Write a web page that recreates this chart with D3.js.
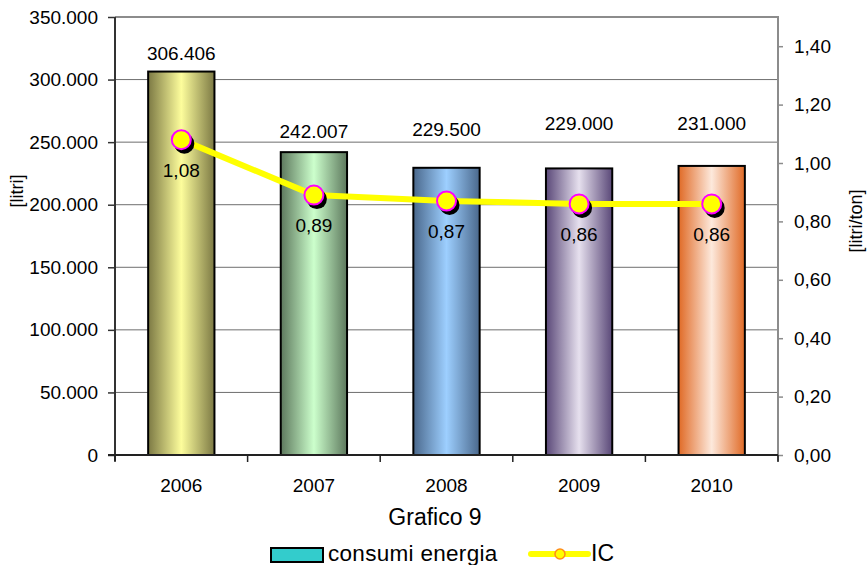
<!DOCTYPE html>
<html>
<head>
<meta charset="utf-8">
<script src="https://cdn.jsdelivr.net/npm/d3@7/dist/d3.min.js"></script>
<style>
  html, body { margin: 0; padding: 0; background: #fff; }
  svg { display: block; font-family: "Liberation Sans", Arial, sans-serif; }
</style>
</head>
<body>
<svg id="chart" width="867" height="565"></svg>
<script>
// Yearly consumption (litres) and consumption index (litres/ton)
const years = ["2006", "2007", "2008", "2009", "2010"];
const consumi = [306406, 242007, 229500, 229000, 231000];
const ic = [1.08, 0.89, 0.87, 0.86, 0.86];
const leftTicks = [0, 50000, 100000, 150000, 200000, 250000, 300000, 350000];
const rightTicks = [0, 0.2, 0.4, 0.6, 0.8, 1.0, 1.2, 1.4];

// Cylinder-style shading for each bar: [edge, centre]
const barShades = [
  ["#7c7944", "#fdfd9c"],
  ["#5d785d", "#ccffcc"],
  ["#4a688c", "#9dcfff"],
  ["#5a4878", "#e6e0ee"],
  ["#e06a26", "#fde9dc"]
];
// Pixel lift of each bar's value label above the bar top
const labelLift = [12, 14, 32, 38, 36];

const it = d3.formatLocale({ decimal: ",", thousands: ".", grouping: [3], currency: ["€", ""] });
const fmtInt = it.format(",d");
const fmt2 = it.format(".2f");

const FS = 19;
const svg = d3.select("#chart");
const plot = { left: 115, right: 778, top: 17, bottom: 455 };

const x = d3.scaleBand().domain(years).range([plot.left, plot.right])
  .paddingInner(0.5).paddingOuter(0.25);
const y = d3.scaleLinear().domain([0, 350000]).range([plot.bottom, plot.top]);
const y2 = d3.scaleLinear().domain([0, 1.5]).range([plot.bottom, plot.top]);

// Gradients
const defs = svg.append("defs");
barShades.forEach((c, i) => {
  const g = defs.append("linearGradient").attr("id", "bar" + i)
    .attr("x1", "0%").attr("x2", "100%").attr("y1", "0%").attr("y2", "0%");
  g.append("stop").attr("offset", "0%").attr("stop-color", c[0]);
  g.append("stop").attr("offset", "50%").attr("stop-color", c[1]);
  g.append("stop").attr("offset", "100%").attr("stop-color", c[0]);
});

// Horizontal gridlines
svg.append("g").selectAll("line")
  .data(leftTicks.filter(t => t > 0 && t < 350000))
  .join("line")
  .attr("x1", plot.left).attr("x2", plot.right)
  .attr("y1", d => y(d)).attr("y2", d => y(d))
  .attr("stroke", "#6e6e6e").attr("stroke-width", 1);

// Plot frame (top and right)
svg.append("path")
  .attr("d", `M${plot.left},${plot.top}H${plot.right}V${plot.bottom}`)
  .attr("fill", "none").attr("stroke", "#8c8c8c").attr("stroke-width", 2);

// Bars
svg.append("g").selectAll("rect")
  .data(consumi)
  .join("rect")
  .attr("x", (d, i) => x(years[i]))
  .attr("y", d => y(d))
  .attr("width", x.bandwidth())
  .attr("height", d => y(0) - y(d))
  .attr("fill", (d, i) => `url(#bar${i})`)
  .attr("stroke", "#000").attr("stroke-width", 2);

// Bar value labels
svg.append("g").selectAll("text")
  .data(consumi)
  .join("text")
  .attr("x", (d, i) => x(years[i]) + x.bandwidth() / 2)
  .attr("y", (d, i) => y(d) - labelLift[i])
  .attr("text-anchor", "middle")
  .attr("font-size", FS).attr("fill", "#000")
  .text(d => fmtInt(d));

// Left axis
const leftAxis = d3.axisLeft(y).tickValues(leftTicks).tickFormat(d => fmtInt(d))
  .tickSize(7).tickPadding(10);
const gl = svg.append("g").attr("transform", `translate(${plot.left},0)`).call(leftAxis);
gl.select(".domain").attr("stroke", "#333").attr("stroke-width", 2)
  .attr("d", `M0,${plot.top}V${plot.bottom + 6}`);
gl.selectAll(".tick line").attr("stroke", "#333").attr("stroke-width", 1.5);
gl.selectAll(".tick text").attr("font-size", FS).attr("fill", "#000")
  .attr("font-family", "Liberation Sans, Arial, sans-serif");

// Right axis
const rightAxis = d3.axisRight(y2).tickValues(rightTicks).tickFormat(d => fmt2(d))
  .tickSize(5).tickPadding(11);
const gr = svg.append("g").attr("transform", `translate(${plot.right},0)`).call(rightAxis);
gr.select(".domain").attr("stroke", "#8c8c8c").attr("stroke-width", 2)
  .attr("d", `M0,${plot.top}V${plot.bottom + 6}`);
gr.selectAll(".tick line").attr("stroke", "#8c8c8c").attr("stroke-width", 1.5);
gr.selectAll(".tick text").attr("font-size", FS).attr("fill", "#000")
  .attr("font-family", "Liberation Sans, Arial, sans-serif");

// Category axis with ticks at band boundaries
const gx = svg.append("g");
gx.append("line").attr("x1", plot.left - 7).attr("x2", plot.right)
  .attr("y1", plot.bottom).attr("y2", plot.bottom)
  .attr("stroke", "#222").attr("stroke-width", 2);
gx.selectAll("line.tk")
  .data(years.map((yr, i) => i === 0 ? plot.left : x(yr) - x.step() * x.paddingInner() / 2).concat([plot.right]))
  .join("line").attr("class", "tk")
  .attr("x1", d => d).attr("x2", d => d)
  .attr("y1", plot.bottom).attr("y2", plot.bottom + 7)
  .attr("stroke", "#222").attr("stroke-width", 1.5);
gx.selectAll("text")
  .data(years)
  .join("text")
  .attr("x", d => x(d) + x.bandwidth() / 2)
  .attr("y", 492)
  .attr("text-anchor", "middle")
  .attr("font-size", FS).attr("fill", "#000")
  .text(d => d);

// IC line
const cx = i => x(years[i]) + x.bandwidth() / 2;
const line = d3.line().x((d, i) => cx(i)).y(d => y2(d));
svg.append("path").datum(ic)
  .attr("d", line)
  .attr("fill", "none").attr("stroke", "#ffff00").attr("stroke-width", 6)
  .attr("stroke-linejoin", "round");

// Markers with drop shadow
const mk = svg.append("g");
mk.selectAll("circle.sh").data(ic).join("circle").attr("class", "sh")
  .attr("cx", (d, i) => cx(i) + 3).attr("cy", d => y2(d) + 4)
  .attr("r", 10).attr("fill", "#000");
mk.selectAll("circle.pt").data(ic).join("circle").attr("class", "pt")
  .attr("cx", (d, i) => cx(i)).attr("cy", d => y2(d))
  .attr("r", 9.5).attr("fill", "#ffff00").attr("stroke", "#ff00ff").attr("stroke-width", 2);

// IC labels
svg.append("g").selectAll("text")
  .data(ic)
  .join("text")
  .attr("x", (d, i) => cx(i))
  .attr("y", d => y2(d) + 37)
  .attr("text-anchor", "middle")
  .attr("font-size", FS).attr("fill", "#000")
  .text(d => fmt2(d));

// Axis titles
svg.append("text")
  .attr("transform", "translate(23,191) rotate(-90)")
  .attr("text-anchor", "middle").attr("font-size", 18).attr("fill", "#000")
  .text("[litri]");
svg.append("text")
  .attr("transform", "translate(862,221) rotate(-90)")
  .attr("text-anchor", "middle").attr("font-size", 18).attr("fill", "#000")
  .text("[litri/ton]");

// Chart caption
svg.append("text")
  .attr("x", 435).attr("y", 525)
  .attr("text-anchor", "middle").attr("font-size", 23).attr("fill", "#000")
  .text("Grafico 9");

// Legend
const lg = svg.append("g");
lg.append("rect").attr("x", 271).attr("y", 548).attr("width", 52).attr("height", 14)
  .attr("fill", "#33cccc").attr("stroke", "#000").attr("stroke-width", 2);
lg.append("text").attr("x", 328).attr("y", 561)
  .attr("font-size", 22.5).attr("fill", "#000").attr("letter-spacing", 0.3)
  .text("consumi energia");
lg.append("line").attr("x1", 531).attr("x2", 588).attr("y1", 554).attr("y2", 554)
  .attr("stroke", "#ffff00").attr("stroke-width", 6).attr("stroke-linecap", "round");
lg.append("circle").attr("cx", 560).attr("cy", 554).attr("r", 5)
  .attr("fill", "#ffff00").attr("stroke", "#ff8c1a").attr("stroke-width", 1.5);
lg.append("text").attr("x", 591).attr("y", 561)
  .attr("font-size", 23).attr("fill", "#000")
  .text("IC");
</script>
</body>
</html>
